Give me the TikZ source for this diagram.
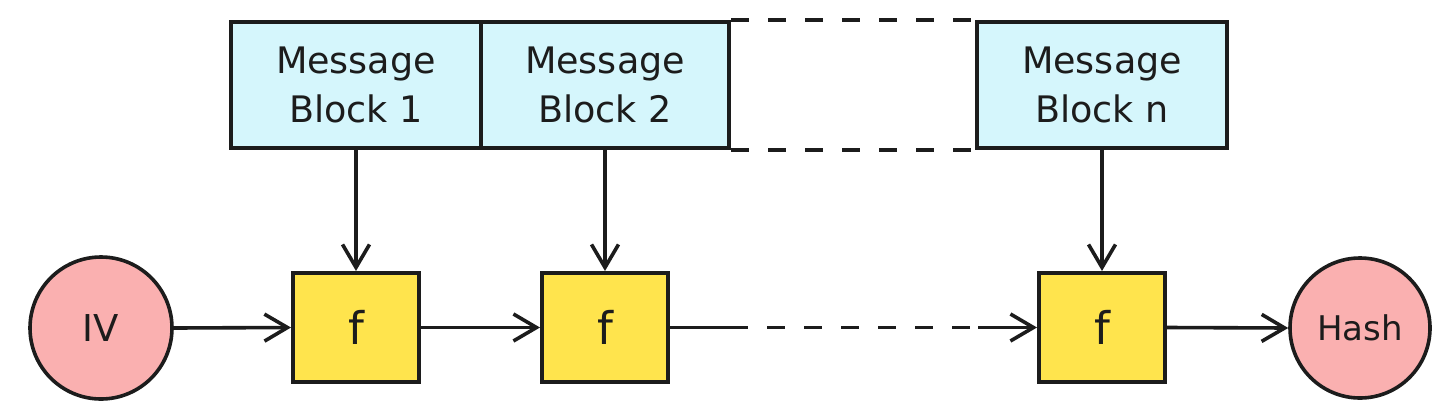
\documentclass[tikz,border=0pt]{standalone}
\usepackage{fontspec}
\setmainfont{DejaVu Sans}
\usetikzlibrary{arrows.meta}
\definecolor{msgblue}{RGB}{213,246,252}
\definecolor{fyellow}{RGB}{255,228,77}
\definecolor{ivpink}{RGB}{250,176,176}
\definecolor{ink}{RGB}{28,28,28}
\tikzset{
  msgbox/.style={draw=ink, fill=msgblue, line width=4pt, minimum height=126pt, inner sep=0pt,
    align=center, text=ink, font=\fontsize{36.5}{49}\selectfont},
  fbox/.style={draw=ink, fill=fyellow, line width=4pt, minimum width=126pt, minimum height=109pt,
    inner sep=0pt, text=ink, font=\fontsize{45}{50}\selectfont},
  endpt/.style={circle, draw=ink, fill=ivpink, line width=3.6pt, inner sep=0pt, text=ink},
  conn/.style={draw=ink, line width=3.6pt},
  tip/.style={-{Straight Barb[length=23pt,width=27pt,line width=3.6pt]}},
  dashconn/.style={draw=ink, line width=3.6pt, dash pattern=on 18pt off 19pt},
}
\begin{document}
\begin{tikzpicture}[x=1pt,y=-1pt]
\useasboundingbox (0,0) rectangle (1437,413);
% message blocks
\node[msgbox, minimum width=250pt] (b1) at (356,85) {Message\\Block 1};
\node[msgbox, minimum width=248pt] (b2) at (605,85) {Message\\Block 2};
\node[msgbox, minimum width=250pt] (bn) at (1102,85) {Message\\Block n};
% dashed continuation lines
\draw[dashconn] (b2.north east) -- (bn.north west);
\draw[dashconn] (b2.south east) -- (bn.south west);
% compression function boxes
\node[fbox] (f1) at (356,327.5) {f};
\node[fbox] (f2) at (605,327.5) {f};
\node[fbox] (fn) at (1102,327.5) {f};
% IV and hash
\node[endpt, minimum size=142pt, font=\fontsize{37}{40}\selectfont] (iv) at (101,328) {IV};
\node[endpt, minimum size=140pt, font=\fontsize{34}{40}\selectfont] (hash) at (1360,328) {Hash};
% vertical arrows
\draw[conn, tip] (b1.south) -- (f1.north);
\draw[conn, tip] (b2.south) -- (f2.north);
\draw[conn, tip] (bn.south) -- (fn.north);
% horizontal chain
\coordinate (d1) at (748,327.5);
\coordinate (d2) at (978,327.5);
\draw[conn, tip] (iv.east) -- (f1.west);
\draw[conn, tip] (f1.east) -- (f2.west);
\draw[conn] (f2.east) -- (d1);
\draw[dashconn, dash phase=18pt] (d1) -- (d2);
\draw[conn, tip] (d2) -- (fn.west);
\draw[conn, tip] (fn.east) -- (hash.west);
\end{tikzpicture}
\end{document}
